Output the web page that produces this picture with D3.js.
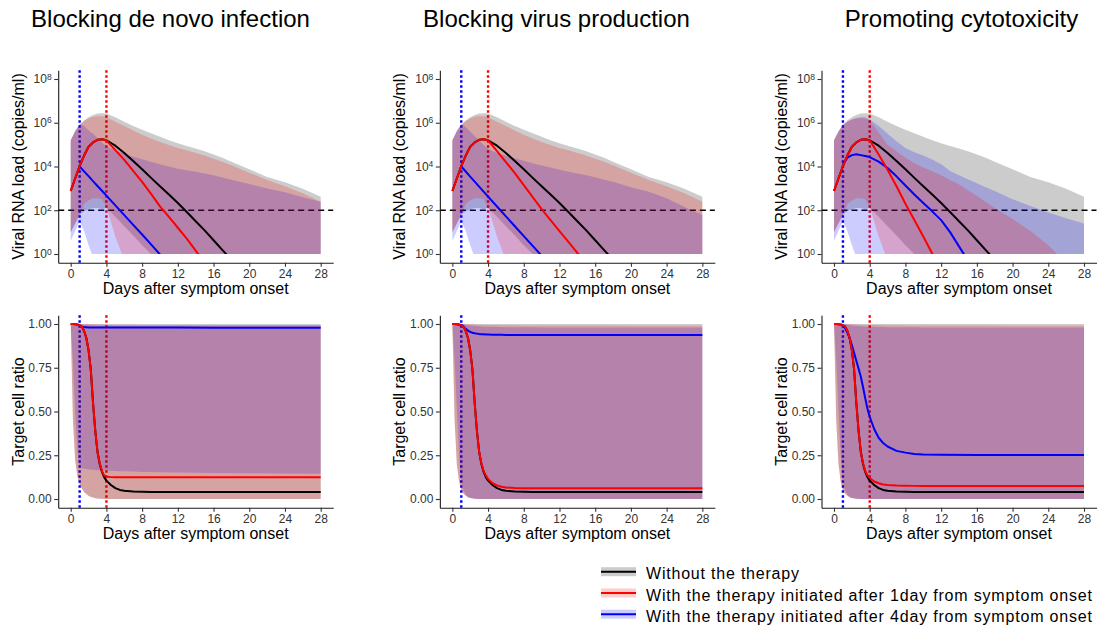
<!DOCTYPE html>
<html><head><meta charset="utf-8">
<script src="https://cdn.jsdelivr.net/npm/d3@7"></script>
<style>
body{margin:0;background:#fff;}
svg{display:block;font-family:"Liberation Sans", Arial, Helvetica, sans-serif;}
</style></head><body>
<svg id="chart" width="1097" height="626"></svg>
<script>
// ---------------- DATA ----------------
const panelTitles = ["Blocking de novo infection", "Blocking virus production", "Promoting cytotoxicity"];
const xTicks = [0, 4, 8, 12, 16, 20, 24, 28];
const vlTickExponents = [0, 2, 4, 6, 8];
const tcTicks = [0, 0.25, 0.5, 0.75, 1];
const legendLabels = ["Without the therapy",
  "With the therapy initiated after 1day from symptom onset",
  "With the therapy initiated after 4day from symptom onset"];
const redTherapyDay = 4, blueTherapyDay = 1, detectionLog = 2;

// Viral load (log10 copies/ml)
const daysTop = [0,0.5,1,1.5,2,2.5,3,3.5,4,5,6,7,8,9,10,11,12,13,14,15,16,17,18,20,22,24,26,28];
const vlNone = [2.88,3.45,4.02,4.5,4.9,5.1,5.22,5.25,5.2,4.95,4.62,4.25,3.87,3.48,3.1,2.72,2.33,1.92,1.5,1.08,0.63,0.18,-0.27,null,null,null,null,null];
const vlNoneHi = [5.2,5.6,5.9,6.1,6.25,6.35,6.42,6.44,6.42,6.25,6.05,5.85,5.68,5.52,5.36,5.2,5.06,4.94,4.82,4.7,4.55,4.4,4.22,3.88,3.52,3.28,2.98,2.62];
const vlNoneLo = [1.0,1.4,1.8,1.95,2.05,2.1,2.1,2.05,2.12,1.7,1.27,0.85,0.4,0,0,0,0,0,0,0,0,0,0,0,0,0,0,0];
const vlRedLo = [1.0,1.4,1.8,2.3,2.45,2.55,2.55,2.5,2.15,0.8,-0.3,0,0,0,0,0,0,0,0,0,0,0,0,0,0,0,0,0];
const vlBlueLo = [0.6,1.05,1.5,1.05,0.4,-0.15,0,0,0,0,0,0,0,0,0,0,0,0,0,0,0,0,0,0,0,0,0,0];
// panel 1
const p1VlRed = [2.88,3.45,4.02,4.5,4.9,5.1,5.22,5.25,5.2,4.75,4.3,3.8,3.3,2.75,2.18,1.7,1.2,0.7,0.15,-0.4,null,null,null,null,null,null,null,null];
const p1VlBlue = [null,null,4.0,3.78,3.56,3.33,3.11,2.89,2.67,2.22,1.78,1.33,0.89,0.44,-0.02,null,null,null,null,null,null,null,null,null,null,null,null,null];
const p1VlRedHi = [5.2,5.6,5.9,6.08,6.2,6.28,6.3,6.3,6.25,6.05,5.85,5.65,5.45,5.28,5.12,4.98,4.85,4.74,4.62,4.5,4.36,4.22,4.06,3.72,3.38,3.1,2.78,2.39];
const p1VlBlueHi = [5.2,5.65,5.95,5.85,5.65,5.5,5.3,5.1,4.92,4.75,4.58,4.45,4.33,4.22,4.1,4.0,3.9,3.83,3.76,3.68,3.6,3.5,3.4,3.2,3.0,2.82,2.6,2.39];
// panel 2
const p2VlRed = [2.88,3.45,4.02,4.5,4.9,5.1,5.22,5.25,5.2,4.7,4.2,3.7,3.15,2.6,2.05,1.55,1.05,0.55,0.05,-0.45,null,null,null,null,null,null,null,null];
const p2VlBlue = [null,null,4.0,3.77,3.54,3.31,3.08,2.85,2.62,2.17,1.72,1.27,0.82,0.37,-0.08,null,null,null,null,null,null,null,null,null,null,null,null,null];
const p2VlRedHi = [5.2,5.6,5.9,6.08,6.2,6.28,6.3,6.3,6.25,6.05,5.85,5.65,5.45,5.28,5.12,4.98,4.85,4.74,4.62,4.5,4.36,4.22,4.06,3.72,3.38,3.1,2.78,2.39];
const p2VlBlueHi = [5.2,5.65,5.95,5.8,5.6,5.4,5.2,4.98,4.8,4.62,4.5,4.38,4.26,4.15,4.05,3.95,3.85,3.76,3.68,3.6,3.51,3.4,3.3,3.05,2.85,2.55,2.15,1.78];
// panel 3
const p3VlRed = [2.88,3.45,4.02,4.5,4.9,5.1,5.22,5.25,5.2,4.55,3.85,3.1,2.3,1.55,0.8,0.02,-0.7,null,null,null,null,null,null,null,null,null,null,null];
const p3VlBlue = [null,null,4.1,4.4,4.52,4.56,4.52,4.48,4.43,4.22,3.93,3.55,3.13,2.72,2.33,1.95,1.55,1.0,0.35,-0.3,null,null,null,null,null,null,null,null];
const p3VlRedHi = [5.2,5.6,5.9,6.05,6.15,6.2,6.22,6.2,6.1,5.55,5.0,4.7,4.4,4.15,3.95,3.78,3.6,3.38,3.18,2.92,2.65,2.38,2.1,1.6,1.05,0.4,-0.4,-1.2];
const p3VlBlueHi = [5.2,5.6,5.9,6.05,6.15,6.22,6.25,6.25,6.15,5.85,5.5,5.15,4.85,4.65,4.5,4.32,4.1,3.8,3.6,3.42,3.24,3.05,2.88,2.5,2.2,1.9,1.63,1.4];

// Target cell ratio
const daysBottom = [0,0.25,0.5,0.75,1,1.25,1.5,1.75,2,2.25,2.5,2.75,3,3.25,3.5,3.75,4,4.5,5,5.5,6,7,8,9,10,12,16,20,24,28];
const tcNone = [1.0,1.0,0.999,0.997,0.993,0.985,0.96,0.92,0.85,0.74,0.55,0.39,0.27,0.2,0.155,0.125,0.105,0.08,0.062,0.052,0.047,0.043,0.041,0.04,0.04,0.04,0.04,0.04,0.04,0.04];
const tcNoneHi = [1,1,1,1,1,1,1,1,1,1,1,1,1,1,1,1,1,1,1,1,1,1,1,1,1,1,1,1,1,1];
const p1TcRed = [1.0,1.0,0.999,0.997,0.993,0.985,0.96,0.92,0.85,0.74,0.55,0.39,0.27,0.205,0.16,0.135,0.127,0.125,0.124,0.124,0.124,0.124,0.124,0.124,0.124,0.124,0.124,0.124,0.124,0.124];
const p1TcBlue = [null,null,null,null,0.99,0.985,0.982,0.981,0.98,0.98,0.98,0.98,0.98,0.98,0.98,0.98,0.98,0.98,0.98,0.98,0.98,0.98,0.98,0.98,0.98,0.98,0.979,0.979,0.978,0.978];
const p1TcNoneLo = [1.0,0.45,0.22,0.13,0.085,0.06,0.04,0.028,0.018,0.012,0.008,0.005,0.003,0.002,0.001,0,0,0,0,0,0,0,0,0,0,0,0,0,0,0];
const p1TcRedHi = [1,1,1,1,1,1,1,1,0.999,0.999,0.998,0.998,0.998,0.997,0.997,0.997,0.997,0.996,0.996,0.996,0.996,0.996,0.995,0.995,0.995,0.995,0.995,0.995,0.995,0.995];
const p1TcRedLo = [1.0,0.45,0.22,0.13,0.085,0.06,0.04,0.028,0.018,0.012,0.008,0.005,0.003,0.002,0.001,0,0,0,0,0,0,0,0,0,0,0,0,0,0,0];
const p1TcBlueHi = [1,1,1,1,1,0.997,0.995,0.994,0.993,0.993,0.992,0.992,0.992,0.991,0.991,0.991,0.991,0.991,0.99,0.99,0.99,0.99,0.99,0.99,0.99,0.99,0.99,0.99,0.99,0.99];
const p1TcBlueLo = [1.0,0.78,0.5,0.27,0.18,0.176,0.173,0.171,0.169,0.168,0.167,0.166,0.165,0.164,0.164,0.163,0.163,0.161,0.16,0.159,0.158,0.157,0.155,0.154,0.153,0.151,0.149,0.147,0.146,0.145];
const p2TcRed = [1.0,1.0,0.999,0.997,0.993,0.985,0.96,0.92,0.85,0.74,0.55,0.39,0.27,0.205,0.16,0.135,0.115,0.09,0.078,0.07,0.066,0.063,0.062,0.061,0.061,0.061,0.061,0.061,0.061,0.061];
const p2TcBlue = [null,null,null,null,0.995,0.985,0.972,0.962,0.955,0.95,0.947,0.945,0.943,0.942,0.941,0.94,0.94,0.939,0.938,0.938,0.937,0.937,0.937,0.937,0.937,0.937,0.937,0.937,0.937,0.937];
const p3TcRed = [1.0,1.0,0.999,0.997,0.993,0.985,0.96,0.92,0.85,0.74,0.55,0.39,0.27,0.205,0.16,0.135,0.12,0.1,0.09,0.083,0.08,0.077,0.076,0.075,0.075,0.075,0.075,0.075,0.075,0.075];
const p3TcBlue = [null,null,null,null,0.99,0.975,0.95,0.92,0.88,0.835,0.79,0.745,0.7,0.64,0.575,0.515,0.47,0.4,0.35,0.32,0.3,0.275,0.265,0.257,0.254,0.253,0.252,0.252,0.252,0.252];
const p23TcNoneLo = [1.0,0.45,0.2,0.1,0.05,0.03,0.018,0.01,0.006,0.004,0.002,0.001,0,0,0,0,0,0,0,0,0,0,0,0,0,0,0,0,0,0];
const p23TcRedHi = [1,1,1,1,1,1,0.999,0.999,0.998,0.998,0.997,0.997,0.996,0.996,0.995,0.995,0.995,0.994,0.994,0.993,0.993,0.993,0.992,0.992,0.992,0.991,0.991,0.99,0.99,0.99];
const p23TcBlueHi = [1,1,1,1,1,0.998,0.996,0.994,0.992,0.99,0.989,0.988,0.987,0.986,0.985,0.985,0.984,0.984,0.983,0.983,0.982,0.982,0.981,0.981,0.98,0.98,0.98,0.98,0.98,0.98];
const p23TcBlueLo = [1.0,0.8,0.52,0.25,0.1,0.05,0.025,0.012,0.006,0.003,0.001,0,0,0,0,0,0,0,0,0,0,0,0,0,0,0,0,0,0,0];

// ---------------- LAYOUT ----------------
const svg = d3.select("#chart");
const PX0 = 58.2, PDX = 381.65, PW = 275;
const TOP = {y0: 70.25, y1: 262.75}, BOT = {y0: 315.25, y1: 507.75};
const titleCenters = [170.5, 556.5, 961.5];
const COL = {none: "#000000", red: "#ff0000", blue: "#0000ff"};
const pow10 = v => Math.pow(10, v);

const panels = [
  {vl: {red: p1VlRed, blue: p1VlBlue, redHi: p1VlRedHi, blueHi: p1VlBlueHi},
   tc: {red: p1TcRed, blue: p1TcBlue, noneLo: p1TcNoneLo, redHi: p1TcRedHi, redLo: p1TcRedLo, blueHi: p1TcBlueHi, blueLo: p1TcBlueLo}, bottomRedLine: true},
  {vl: {red: p2VlRed, blue: p2VlBlue, redHi: p2VlRedHi, blueHi: p2VlBlueHi},
   tc: {red: p2TcRed, blue: p2TcBlue, noneLo: p23TcNoneLo, redHi: p23TcRedHi, redLo: p23TcNoneLo, blueHi: p23TcBlueHi, blueLo: p23TcBlueLo}, bottomRedLine: false},
  {vl: {red: p3VlRed, blue: p3VlBlue, redHi: p3VlRedHi, blueHi: p3VlBlueHi},
   tc: {red: p3TcRed, blue: p3TcBlue, noneLo: p23TcNoneLo, redHi: p23TcRedHi, redLo: p23TcNoneLo, blueHi: p23TcBlueHi, blueLo: p23TcBlueLo}, bottomRedLine: true}
];

function zip(days, arr) { return days.map((t, i) => ({t, v: arr[i]})); }
function zipBand(days, lo, hi) { return days.map((t, i) => ({t, lo: lo[i], hi: hi[i]})); }

function drawPanel(k, cfg) {
  const x = d3.scaleLinear().domain([-1.4, 29.4]).range([PX0 + k * PDX, PX0 + k * PDX + PW]);
  const y = cfg.y;
  const g = svg.append("g");
  const clipId = "clip" + cfg.id + k;
  svg.append("clipPath").attr("id", clipId).append("rect")
    .attr("x", x.range()[0]).attr("width", PW)
    .attr("y", cfg.y0).attr("height", cfg.clipBottom - cfg.y0);

  // reference lines (underneath ribbons)
  if (cfg.hline != null) {
    g.append("line").attr("x1", x.range()[0]).attr("x2", x.range()[1])
      .attr("y1", y(cfg.conv(cfg.hline))).attr("y2", y(cfg.conv(cfg.hline)))
      .attr("stroke", "#000").attr("stroke-width", 1.6).attr("stroke-dasharray", "6,4");
  }
  cfg.vlines.forEach(vl => {
    g.append("line").attr("x1", x(vl.day)).attr("x2", x(vl.day))
      .attr("y1", cfg.y0).attr("y2", cfg.y1)
      .attr("stroke", vl.color).attr("stroke-width", 2.4).attr("stroke-dasharray", "2.4,2.6");
  });

  const area = d3.area().x(d => x(d.t)).y0(d => y(cfg.conv(d.lo))).y1(d => y(cfg.conv(d.hi)));
  const cg = g.append("g").attr("clip-path", `url(#${clipId})`);
  cfg.bands.forEach(b => {
    cg.append("path").datum(zipBand(cfg.days, b.lo, b.hi))
      .attr("d", area).attr("fill", b.color).attr("fill-opacity", 0.2).attr("stroke", "none");
  });
  const line = d3.line().defined(d => d.v != null).x(d => x(d.t)).y(d => y(cfg.conv(d.v)));
  cfg.lines.forEach(l => {
    cg.append("path").datum(zip(cfg.days, l.v))
      .attr("d", line).attr("fill", "none").attr("stroke", l.color)
      .attr("stroke-width", 2).attr("stroke-linejoin", "round");
  });

  // axes
  const ax = g.append("g").attr("transform", `translate(0,${cfg.y1})`)
    .call(d3.axisBottom(x).tickValues(xTicks).tickSize(4).tickSizeOuter(0).tickPadding(3));
  const ay = g.append("g").attr("transform", `translate(${x.range()[0]},0)`)
    .call(cfg.yAxis);
  [ax, ay].forEach(a => {
    a.selectAll("path.domain").attr("stroke", "#1a1a1a").attr("stroke-width", 1.1);
    a.selectAll(".tick line").attr("stroke", "#333").attr("stroke-width", 1.1);
    a.selectAll(".tick text").attr("fill", "#333").attr("font-size", 12)
      .attr("font-family", '"Liberation Sans", Arial, Helvetica, sans-serif');
  });
  if (cfg.superscript) {
    ay.selectAll(".tick text").each(function(d) {
      const t = d3.select(this);
      t.text(null);
      t.append("tspan").text("10");
      t.append("tspan").attr("dy", "-0.45em").attr("font-size", 8.5).text(Math.round(Math.log10(d)));
    });
  }
  // axis titles
  g.append("text").attr("x", (x.range()[0] + x.range()[1]) / 2).attr("y", cfg.y1 + 31.5)
    .attr("text-anchor", "middle").attr("font-size", 16).attr("fill", "#000")
    .text("Days after symptom onset");
  g.append("text").attr("transform", `translate(${23.5 + k * PDX},${(cfg.y0 + cfg.y1) / 2}) rotate(-90)`)
    .attr("text-anchor", "middle").attr("font-size", 16).attr("fill", "#000")
    .text(cfg.yTitle);
}

panels.forEach((p, k) => {
  // titles
  svg.append("text").attr("x", titleCenters[k]).attr("y", 27).attr("text-anchor", "middle")
    .attr("font-size", 24).attr("fill", "#000").text(panelTitles[k]);

  // top: viral load
  const yT = d3.scaleLog().domain([pow10(-0.4), pow10(8.4)]).range([TOP.y1, TOP.y0]);
  drawPanel(k, {
    id: "t", y: yT, conv: pow10, y0: TOP.y0, y1: TOP.y1, clipBottom: yT(1), days: daysTop,
    hline: detectionLog, superscript: true,
    vlines: [{day: blueTherapyDay, color: COL.blue}, {day: redTherapyDay, color: COL.red}],
    yAxis: d3.axisLeft(yT).tickValues(vlTickExponents.map(pow10)).tickSize(4).tickSizeOuter(0).tickPadding(2.5),
    yTitle: "Viral RNA load (copies/ml)",
    bands: [{lo: vlNoneLo, hi: vlNoneHi, color: COL.none},
            {lo: vlBlueLo, hi: p.vl.blueHi, color: COL.blue},
            {lo: vlRedLo, hi: p.vl.redHi, color: COL.red}],
    lines: [{v: vlNone, color: COL.none}, {v: p.vl.blue, color: COL.blue}, {v: p.vl.red, color: COL.red}]
  });

  // bottom: target cell ratio
  const yB = d3.scaleLinear().domain([-0.05, 1.05]).range([BOT.y1, BOT.y0]);
  const vls = [{day: blueTherapyDay, color: COL.blue}];
  if (p.bottomRedLine) vls.push({day: redTherapyDay, color: COL.red});
  drawPanel(k, {
    id: "b", y: yB, conv: v => v, y0: BOT.y0, y1: BOT.y1, clipBottom: BOT.y1, days: daysBottom,
    hline: null, superscript: false, vlines: vls,
    yAxis: d3.axisLeft(yB).tickValues(tcTicks).tickFormat(d3.format(".2f")).tickSize(4).tickSizeOuter(0).tickPadding(2.5),
    yTitle: "Target cell ratio",
    bands: [{lo: p.tc.noneLo, hi: tcNoneHi, color: COL.none},
            {lo: p.tc.blueLo, hi: p.tc.blueHi, color: COL.blue},
            {lo: p.tc.redLo, hi: p.tc.redHi, color: COL.red}],
    lines: [{v: tcNone, color: COL.none}, {v: p.tc.blue, color: COL.blue}, {v: p.tc.red, color: COL.red}]
  });
});

// legend
const legendColors = [COL.none, COL.red, COL.blue];
const legendRowY = [571.7, 593.0, 614.2];
const legendWidths = [153, 446, 446];
const lg = svg.append("g");
legendLabels.forEach((lab, i) => {
  const yy = legendRowY[i];
  lg.append("rect").attr("x", 601).attr("y", yy - 4.5).attr("width", 35).attr("height", 9)
    .attr("fill", legendColors[i]).attr("fill-opacity", 0.2);
  lg.append("line").attr("x1", 601).attr("x2", 636).attr("y1", yy).attr("y2", yy)
    .attr("stroke", legendColors[i]).attr("stroke-width", 2);
  lg.append("text").attr("x", 646).attr("y", yy + 7.7).attr("font-size", 16).attr("fill", "#000")
    .attr("textLength", legendWidths[i]).attr("lengthAdjust", "spacing").text(lab);
});
</script>
</body></html>
